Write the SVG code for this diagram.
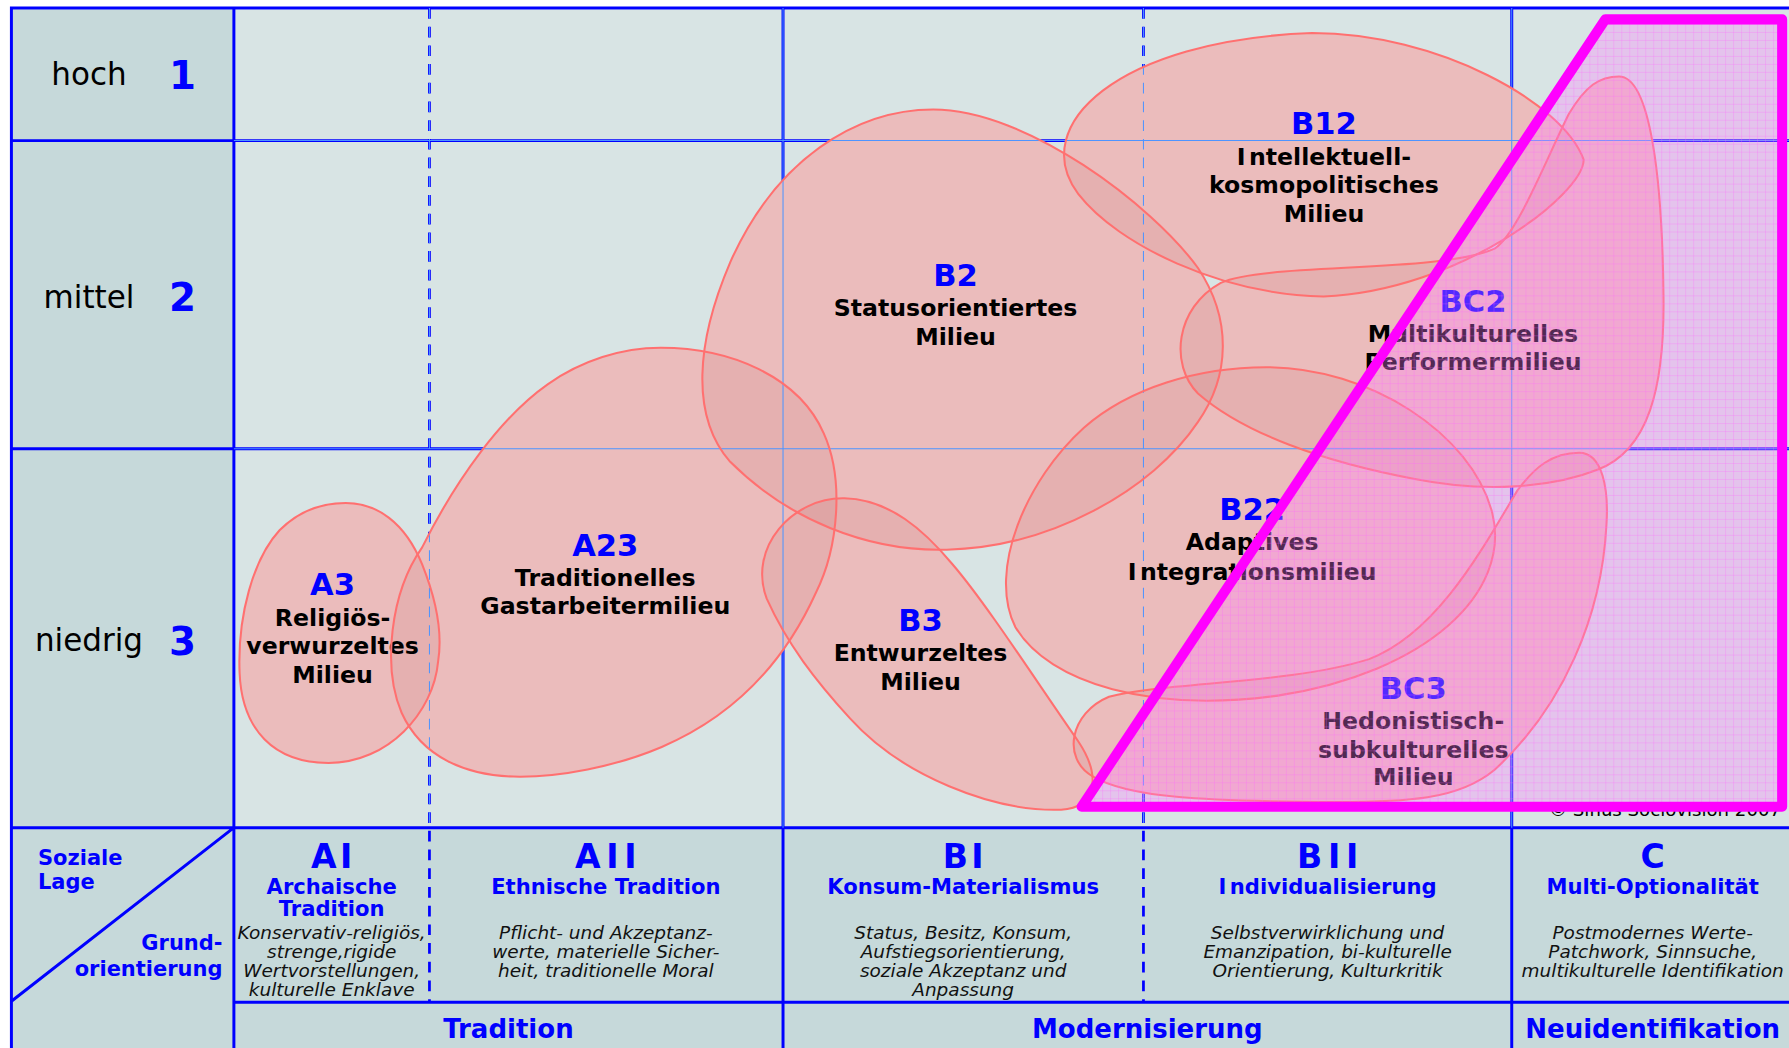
<svg xmlns="http://www.w3.org/2000/svg" width="1789" height="1048" viewBox="0 0 1789 1048">
<defs>
<style>
.bgL{fill:#c6d9da}
.bgM{fill:#d8e4e4}
.thick{stroke:#0000ff;stroke-width:2.6;fill:none}
.thickd{stroke:#0000ff;stroke-width:2.4;fill:none;stroke-dasharray:9.4 7}
.thin{stroke:#4d94ff;stroke-width:0.9;fill:none}
.thind{stroke:#4d94ff;stroke-width:0.9;fill:none;stroke-dasharray:9.4 7}
.bbase{fill:#f2c8c8}
.bdark{fill:#8c0000;fill-opacity:0.06}
.bstroke{fill:none;stroke:#ff7070;stroke-width:1.8}
text{font-family:"DejaVu Sans",Verdana,sans-serif}
.code{font-size:26.8px;font-weight:bold;fill:#0000ff;text-anchor:middle}
.name{font-size:20.7px;font-weight:bold;fill:#000000;text-anchor:middle}
.lvl{font-size:27.2px;fill:#000000;text-anchor:middle}
.num{font-size:34px;font-weight:bold;fill:#0000ff;text-anchor:middle}
.big{font-size:29px;font-weight:bold;fill:#0000ff;text-anchor:middle}
.sub{font-size:18.5px;font-weight:bold;fill:#0000ff;text-anchor:middle}
.desc{font-size:16.2px;font-style:italic;fill:#111111;text-anchor:middle}
.bot{font-size:22.8px;font-weight:bold;fill:#0000ff;text-anchor:middle}
.axis{font-size:18.4px;font-weight:bold;fill:#0000ff}
.copy{font-size:15.9px;fill:#000000;text-anchor:end}
.ovl{fill:#ff80ff;fill-opacity:0.32}
.mag{fill:none;stroke:#ff00ff;stroke-width:8.8;stroke-linejoin:round}
</style>
<pattern id="gridpat" patternUnits="userSpaceOnUse" width="7" height="7">
<path d="M0 0.3H7M0.3 0V7" stroke="#ff60ff" stroke-width="0.6" stroke-opacity="0.45" fill="none"/>
</pattern>
<path id="pA3" d="M303,441 C330,441 355,458 370,495 C382,525 388,555 384,580 C380,625 340,669 288,669 C240,669 212,640 210,590 C208,540 222,490 245,465 C262,448 282,441 303,441 Z"/>
<path id="pA23" d="M579,305 C640,305 700,330 722,380 C740,420 735,480 715,520 C690,575 650,625 580,655 C540,672 490,682 450,681 C410,680 370,665 352,625 C335,585 342,520 370,480 C400,420 440,365 480,337 C510,316 545,305 579,305 Z"/>
<path id="pB2" d="M818,96 C900,96 1010,180 1050,235 C1080,280 1078,330 1050,370 C1010,430 920,480 830,482 C760,484 690,455 640,405 C605,365 610,300 640,230 C680,140 750,96 818,96 Z"/>
<path id="pB3" d="M740,437 C780,438 810,465 835,495 C865,530 910,600 945,650 C965,680 962,708 930,710 C870,712 790,680 745,630 C715,597 690,565 672,525 C655,480 695,436 740,437 Z"/>
<path id="pB12" d="M1150,29 C1260,29 1370,90 1388,140 C1388,170 1280,255 1160,260 C1070,258 980,215 945,170 C900,110 980,35 1150,29 Z"/>
<path id="pB22" d="M1110,322 C1200,322 1290,380 1308,450 C1325,520 1250,590 1120,610 C1010,625 920,600 890,550 C865,500 900,420 950,375 C990,340 1050,322 1110,322 Z"/>
<path id="pBC2" d="M1419,67 C1447,67 1457,160 1458,260 C1459,340 1445,395 1400,412 C1360,428 1300,432 1240,420 C1160,405 1090,380 1050,345 C1025,320 1030,270 1070,248 C1110,230 1260,240 1310,218 C1330,205 1355,140 1375,100 C1390,75 1402,67 1419,67 Z"/>
<path id="pBC3" d="M1384,397 C1405,397 1410,430 1408,460 C1404,540 1370,620 1310,675 C1280,700 1240,705 1140,703 C1060,702 990,700 958,681 C930,665 938,625 972,611 C1020,598 1130,600 1200,578 C1260,555 1300,480 1330,430 C1345,410 1360,397 1384,397 Z"/>
</defs>
<rect x="0" y="0" width="1789" height="1048" fill="#ffffff"/>
<g transform="scale(1.14094 1.14037)">
<g id="background">
<rect class="bgL" x="10" y="7" width="195" height="930"/>
<rect class="bgM" x="205" y="7" width="1370" height="718.8"/>
<rect class="bgL" x="205" y="725.8" width="1370" height="210"/>
</g>
<g id="grid">
<rect class="thick" x="10" y="7" width="1562" height="930"/>
<path class="thick" d="M10,123.3H1572 M10,393.6H1572 M10,725.8H1572 M205,878.9H1572 M205,7V937 M686.3,7V937 M1325,7V937 M10,878 L205,725.8"/>
<path class="thickd" d="M376.4,7V878.9 M1002.2,7V878.9"/>
</g>
<g id="blob-fills">
<use href="#pA3" class="bbase"/><use href="#pA23" class="bbase"/><use href="#pB2" class="bbase"/><use href="#pB3" class="bbase"/><use href="#pB12" class="bbase"/><use href="#pB22" class="bbase"/><use href="#pBC2" class="bbase"/><use href="#pBC3" class="bbase"/>
<use href="#pA3" class="bdark"/><use href="#pA23" class="bdark"/><use href="#pB2" class="bdark"/><use href="#pB3" class="bdark"/><use href="#pB12" class="bdark"/><use href="#pB22" class="bdark"/><use href="#pBC2" class="bdark"/><use href="#pBC3" class="bdark"/>
</g>
<g id="grid-thin">
<path class="thin" d="M205,123.3H1572 M205,393.6H1572 M686.3,7V725.8 M1325,7V725.8"/>
<path class="thind" d="M376.4,7V725.8 M1002.2,7V725.8"/>
</g>
<g id="axis-labels">
<text class="lvl" x="78" y="74.5">hoch</text>
<text class="num" x="160" y="78.3">1</text>
<text class="lvl" x="78" y="270">mittel</text>
<text class="num" x="160" y="273">2</text>
<text class="lvl" x="78" y="571">niedrig</text>
<text class="num" x="160" y="574">3</text>
<text class="axis" x="33.3" y="758.2">Soziale</text>
<text class="axis" x="33.3" y="780">Lage</text>
<text class="axis" x="195" y="832.7" text-anchor="end">Grund-</text>
<text class="axis" x="195" y="856" text-anchor="end">orientierung</text>
</g>
<g id="node-A3">
<use href="#pA3" class="bstroke"/>
<text class="code" x="291.5" y="522">A3</text>
<text class="name" x="291.5" y="549.3">Religiös-</text>
<text class="name" x="291.5" y="573.2">verwurzeltes</text>
<text class="name" x="291.5" y="599">Milieu</text>
</g>
<g id="node-A23">
<use href="#pA23" class="bstroke"/>
<text class="code" x="530.5" y="487.3">A23</text>
<text class="name" x="530.5" y="514.2">Traditionelles</text>
<text class="name" x="530.5" y="538.2">Gastarbeitermilieu</text>
</g>
<g id="node-B2">
<use href="#pB2" class="bstroke"/>
<text class="code" x="837.5" y="250.4">B2</text>
<text class="name" x="837.5" y="277">Statusorientiertes</text>
<text class="name" x="837.5" y="302.4">Milieu</text>
</g>
<g id="node-B3">
<use href="#pB3" class="bstroke"/>
<text class="code" x="806.8" y="553">B3</text>
<text class="name" x="806.8" y="580">Entwurzeltes</text>
<text class="name" x="806.8" y="604.8">Milieu</text>
</g>
<g id="node-B12">
<use href="#pB12" class="bstroke"/>
<text class="code" x="1160.4" y="117.5">B12</text>
<text class="name" x="1160.4" y="144.6">I<tspan dx="3">ntellektuell-</tspan></text>
<text class="name" x="1160.4" y="169.5">kosmopolitisches</text>
<text class="name" x="1160.4" y="194.3">Milieu</text>
</g>
<g id="node-B22">
<use href="#pB22" class="bstroke"/>
<text class="code" x="1097.5" y="456.4">B22</text>
<text class="name" x="1097.5" y="482.7">Adaptives</text>
<text class="name" x="1097.5" y="508.4">I<tspan dx="3">ntegrationsmilieu</tspan></text>
</g>
<g id="node-BC2">
<use href="#pBC2" class="bstroke"/>
<text class="code" x="1291" y="273.2">BC2</text>
<text class="name" x="1291" y="299.5">Multikulturelles</text>
<text class="name" x="1291" y="324.3">Performermilieu</text>
</g>
<g id="node-BC3">
<use href="#pBC3" class="bstroke"/>
<text class="code" x="1238.7" y="613">BC3</text>
<text class="name" x="1238.7" y="639.3">Hedonistisch-</text>
<text class="name" x="1238.7" y="664.7">subkulturelles</text>
<text class="name" x="1238.7" y="688">Milieu</text>
</g>
<g id="header-AI">
<text class="big" x="290.7" y="761">A<tspan dx="3">I</tspan></text>
<text class="sub" x="290.7" y="783.6">Archaische</text>
<text class="sub" x="290.7" y="803.4">Tradition</text>
<text class="desc" x="290.7" y="823.3">Konservativ-religiös,</text>
<text class="desc" x="290.7" y="840">strenge,rigide</text>
<text class="desc" x="290.7" y="857">Wertvorstellungen,</text>
<text class="desc" x="290.7" y="873.6">kulturelle Enklave</text>
</g>
<g id="header-AII">
<text class="big" x="531" y="761">A<tspan dx="5">I</tspan><tspan dx="5">I</tspan></text>
<text class="sub" x="531" y="783.6">Ethnische Tradition</text>
<text class="desc" x="531" y="823.3">Pflicht- und Akzeptanz-</text>
<text class="desc" x="531" y="840">werte, materielle Sicher-</text>
<text class="desc" x="531" y="857">heit, traditionelle Moral</text>
</g>
<g id="header-BI">
<text class="big" x="844.2" y="761">B<tspan dx="3">I</tspan></text>
<text class="sub" x="844.2" y="783.6">Konsum-Materialismus</text>
<text class="desc" x="844.2" y="823.3">Status, Besitz, Konsum,</text>
<text class="desc" x="844.2" y="840">Aufstiegsorientierung,</text>
<text class="desc" x="844.2" y="857">soziale Akzeptanz und</text>
<text class="desc" x="844.2" y="873.6">Anpassung</text>
</g>
<g id="header-BII">
<text class="big" x="1163.6" y="761">B<tspan dx="5">I</tspan><tspan dx="5">I</tspan></text>
<text class="sub" x="1163.6" y="783.6">I<tspan dx="3">ndividualisierung</tspan></text>
<text class="desc" x="1163.6" y="823.3">Selbstverwirklichung und</text>
<text class="desc" x="1163.6" y="840">Emanzipation, bi-kulturelle</text>
<text class="desc" x="1163.6" y="857">Orientierung, Kulturkritik</text>
</g>
<g id="header-C">
<text class="big" x="1448.5" y="761">C</text>
<text class="sub" x="1448.5" y="783.6">Multi-Optionalität</text>
<text class="desc" x="1448.5" y="823.3">Postmodernes Werte-</text>
<text class="desc" x="1448.5" y="840">Patchwork, Sinnsuche,</text>
<text class="desc" x="1448.5" y="857">multikulturelle Identifikation</text>
</g>
<g id="bottom-labels">
<text class="bot" x="445.6" y="910">Tradition</text>
<text class="bot" x="1005.6" y="910">Modernisierung</text>
<text class="bot" x="1448.5" y="910">Neuidentifikation</text>
</g>
<text class="copy" x="1561" y="716">© Sinus Sociovision 2007</text>
<g id="region-C">
<polygon class="ovl" points="1407,17 1562,17 1562,707.4 948,707.4"/>
<polygon fill="url(#gridpat)" points="1407,17 1562,17 1562,707.4 948,707.4"/>
<polygon class="mag" points="1407,17 1562,17 1562,707.4 948,707.4"/>
</g>
</g>
</svg>
